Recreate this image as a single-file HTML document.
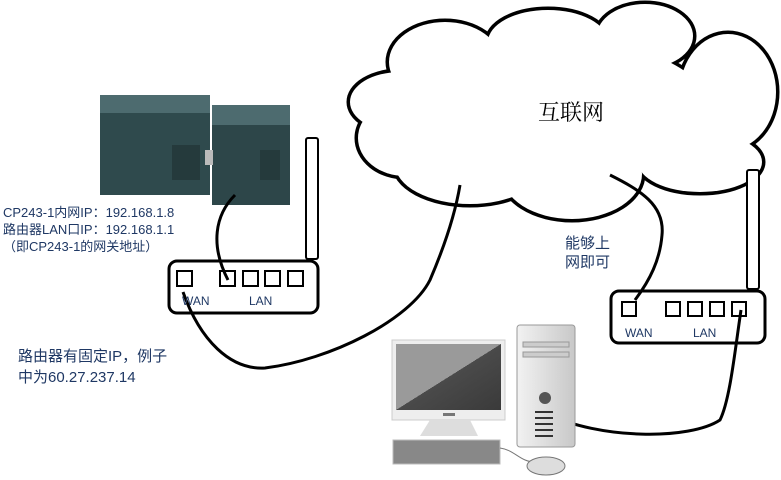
<!DOCTYPE html>
<html><head><meta charset="utf-8"><style>
body{margin:0;width:781px;height:480px;background:#fff;overflow:hidden;position:relative;font-family:"Liberation Sans","Noto Sans CJK SC",sans-serif}
.t{position:absolute;white-space:nowrap}
</style></head><body>
<svg width="781" height="480" style="position:absolute;left:0;top:0">
<defs>
<linearGradient id="scr" x1="0" y1="0" x2="1" y2="1"><stop offset="0.5" stop-color="#9a9a9a"/><stop offset="0.5" stop-color="#4a4a4a"/><stop offset="1" stop-color="#3a3a3a"/></linearGradient>
<linearGradient id="tw" x1="0" x2="1"><stop offset="0" stop-color="#f2f2f2"/><stop offset="1" stop-color="#c8c8c8"/></linearGradient>
</defs>
<!-- cloud -->
<g stroke="#000" stroke-width="7" fill="#000">
<ellipse cx="445" cy="62" rx="56" ry="40"/><ellipse cx="548" cy="42" rx="60" ry="32"/><ellipse cx="645" cy="36" rx="48" ry="32"/>
<ellipse cx="728" cy="92" rx="48" ry="58"/><ellipse cx="700" cy="162" rx="62" ry="30"/><ellipse cx="572" cy="174" rx="70" ry="45"/>
<ellipse cx="470" cy="164" rx="75" ry="40"/><ellipse cx="405" cy="138" rx="47" ry="38"/><ellipse cx="400" cy="102" rx="50" ry="30"/>
<ellipse cx="560" cy="110" rx="150" ry="70"/>
</g>
<g fill="#fff">
<ellipse cx="445" cy="62" rx="56" ry="40"/><ellipse cx="548" cy="42" rx="60" ry="32"/><ellipse cx="645" cy="36" rx="48" ry="32"/>
<ellipse cx="728" cy="92" rx="48" ry="58"/><ellipse cx="700" cy="162" rx="62" ry="30"/><ellipse cx="572" cy="174" rx="70" ry="45"/>
<ellipse cx="470" cy="164" rx="75" ry="40"/><ellipse cx="405" cy="138" rx="47" ry="38"/><ellipse cx="400" cy="102" rx="50" ry="30"/>
<ellipse cx="560" cy="110" rx="150" ry="70"/>
</g>
<!-- PLC -->
<rect x="100" y="95" width="110" height="100" fill="#2f4a4d"/>
<rect x="100" y="95" width="110" height="18" fill="#4d6b6f"/>
<rect x="212" y="105" width="78" height="100" fill="#2d4649"/>
<rect x="212" y="105" width="78" height="20" fill="#4d6b6f"/>
<rect x="172" y="145" width="28" height="35" fill="#253a3c"/>
<rect x="260" y="150" width="20" height="30" fill="#253a3c"/>
<rect x="205" y="150" width="8" height="15" fill="#bbb"/>
<!-- cables -->
<g fill="none" stroke="#000" stroke-width="3">
<path d="M235 195 C215 215 210 245 228 280"/>
<path d="M183 292 C200 340 230 370 265 368 C330 360 410 320 430 280 C445 245 455 215 460 185"/>
<path d="M610 175 C640 190 665 205 662 235 C660 260 650 280 635 300"/>
<path d="M741 310 C735 350 730 400 720 420 C690 440 600 440 545 413"/>
</g>
<!-- router1 -->
<rect x="306" y="138" width="12" height="121" rx="2" fill="#fff" stroke="#000" stroke-width="2"/>
<rect x="169" y="261" width="149" height="52" rx="8" fill="none" stroke="#000" stroke-width="3"/>
<g fill="none" stroke="#000" stroke-width="2">
<rect x="177" y="271" width="15" height="15"/><rect x="220" y="271" width="15" height="15"/><rect x="243" y="271" width="15" height="15"/><rect x="265" y="271" width="15" height="15"/><rect x="288" y="271" width="15" height="15"/>
</g>
<!-- router2 -->
<rect x="747" y="170" width="12" height="119" rx="2" fill="#fff" stroke="#000" stroke-width="2"/>
<rect x="611" y="291" width="154" height="52" rx="8" fill="none" stroke="#000" stroke-width="3"/>
<g fill="none" stroke="#000" stroke-width="2">
<rect x="622" y="302" width="14" height="14"/><rect x="666" y="302" width="14" height="14"/><rect x="688" y="302" width="14" height="14"/><rect x="710" y="302" width="14" height="14"/><rect x="732" y="302" width="14" height="14"/>
</g>
<!-- computer -->
<rect x="392" y="340" width="113" height="80" fill="#eee" stroke="#ccc"/>
<rect x="396" y="344" width="105" height="66" fill="url(#scr)"/>
<rect x="443" y="413" width="12" height="3" fill="#777"/>
<path d="M430 420 L470 420 L478 436 L420 436 Z" fill="#ddd"/>
<rect x="393" y="440" width="107" height="24" fill="#888" stroke="#bbb"/>
<path d="M500 448 C515 450 520 462 535 462" fill="none" stroke="#777"/>
<ellipse cx="546" cy="466" rx="19" ry="9" fill="#ddd" stroke="#777"/>
<rect x="517" y="325" width="58" height="122" rx="3" fill="url(#tw)" stroke="#999"/>
<rect x="523" y="342" width="46" height="5" fill="#ccc" stroke="#999"/>
<rect x="523" y="352" width="46" height="5" fill="#ccc" stroke="#999"/>
<circle cx="545" cy="398" r="6" fill="#555"/>
<g stroke="#333" stroke-width="2"><line x1="535" y1="412" x2="553" y2="412"/><line x1="535" y1="418" x2="553" y2="418"/><line x1="535" y1="424" x2="553" y2="424"/><line x1="535" y1="430" x2="553" y2="430"/><line x1="535" y1="436" x2="553" y2="436"/></g>
</svg>
<div class="t" style="left:182px;top:294px;font-size:12px;color:#1f3864">WAN</div>
<div class="t" style="left:249px;top:294px;font-size:12px;color:#1f3864">LAN</div>
<div class="t" style="left:625px;top:326px;font-size:12px;color:#1f3864">WAN</div>
<div class="t" style="left:693px;top:326px;font-size:12px;color:#1f3864">LAN</div>
<div class="t" style="left:538px;top:96px;font-size:22px;font-family:'Liberation Serif','Noto Serif CJK SC',serif">互联网</div>
<div class="t" style="left:565px;top:234px;font-size:15px;line-height:19px;color:#1f3864">能够上<br>网即可</div>
<div class="t" style="left:18px;top:346px;font-size:15px;line-height:21px;color:#1f3864">路由器有固定IP，例子<br>中为60.27.237.14</div>
<div class="t" style="left:3px;top:204px;font-size:13px;line-height:17px;color:#1f3864">CP243-1内网IP：192.168.1.8<br>路由器LAN口IP：192.168.1.1<br>（即CP243-1的网关地址）</div>
</body></html>
